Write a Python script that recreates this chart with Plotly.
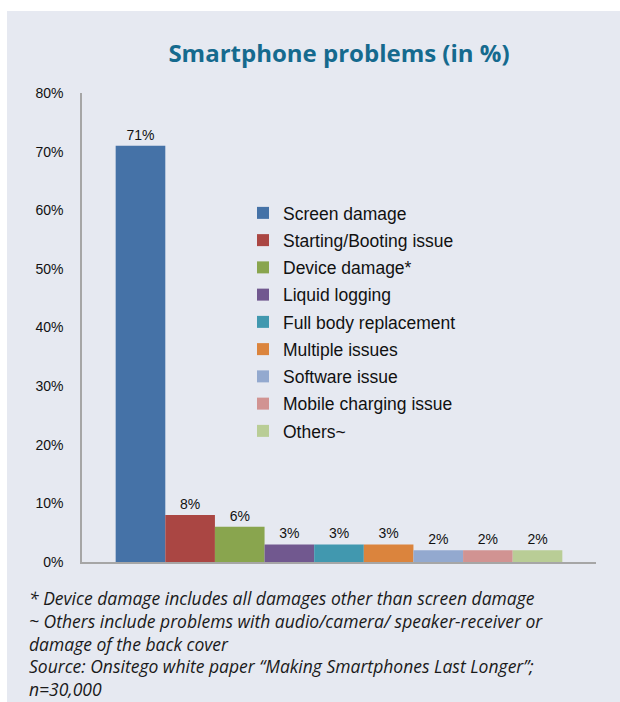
import plotly.graph_objects as go

categories = ["Screen damage", "Starting/Booting issue", "Device damage*", "Liquid logging",
              "Full body replacement", "Multiple issues", "Software issue",
              "Mobile charging issue", "Others~"]
values = [71, 8, 6, 3, 3, 3, 2, 2, 2]
colors = ["#4572A7", "#AA4643", "#89A54E", "#71588F", "#4198AF", "#DB843D",
          "#93A9CF", "#D19392", "#B9CD96"]
y_ticks = [0, 10, 20, 30, 40, 50, 60, 70, 80]
footnotes = [
    "* Device damage includes all damages other than screen damage",
    "~ Others include problems with audio/camera/ speaker-receiver or",
    "damage of the back cover",
    "Source: Onsitego white paper \u201cMaking Smartphones Last Longer\u201d;",
    "n=30,000",
]

W, H = 620, 702
L, R, T, B = 82, 596, 93, 562
pw, ph = R - L, B - T

def px2x(px):
    return (px - L) / pw

def py2y(py):
    return (B - py) / ph

fig = go.Figure()
for i, (name, v, c) in enumerate(zip(categories, values, colors)):
    fig.add_trace(go.Bar(
        x=[""], y=[v], name=name, marker=dict(color=c, line=dict(width=0)),
        text=[f"{v}%"], textposition="outside", cliponaxis=False,
        textfont=dict(family="Liberation Sans", size=14, color="#111111"),
        legendgroup=f"g{i}",
    ))

annotations = [dict(
    text="<br>".join(footnotes), x=px2x(27), y=py2y(643), xref="paper", yref="paper",
    xanchor="left", yanchor="middle", align="left", showarrow=False,
    font=dict(family="Open Sans", size=17.5, color="#1a1a1a", style="italic"),
)]

fig.update_layout(
    width=W, height=H,
    margin=dict(l=L, r=W - R, t=T, b=H - B, pad=0),
    paper_bgcolor="white",
    plot_bgcolor="rgba(0,0,0,0)",
    barmode="group",
    bargap=0.131,
    bargroupgap=0,
    title=dict(text="<b>Smartphone problems (in %)</b>", x=339 / W, xanchor="center",
               y=1 - 54 / H, yanchor="middle", xref="container",
               font=dict(family="Open Sans", size=24, color="#156A8E")),
    showlegend=True,
    legend=dict(x=px2x(243), y=py2y(195), xanchor="left", yanchor="top",
                bgcolor="rgba(0,0,0,0)", tracegroupgap=1.5,
                font=dict(family="Liberation Sans", size=17.5, color="#111111")),
    xaxis=dict(range=[-0.5, 0.5], showticklabels=False, showline=True,
               linecolor="#A6A6A6", linewidth=1.5, showgrid=False, zeroline=False,
               ticks="", fixedrange=True),
    yaxis=dict(range=[0, 80], tickvals=y_ticks, ticktext=[f"{t}%" for t in y_ticks],
               showline=True, linecolor="#A6A6A6", linewidth=1.5, showgrid=False,
               zeroline=False, ticks="", ticklabelstandoff=14,
               tickfont=dict(family="Liberation Sans", size=14, color="#111111")),
    shapes=[dict(type="rect", xref="paper", yref="paper", layer="below",
                 x0=px2x(7), x1=px2x(640), y0=py2y(720), y1=py2y(11),
                 fillcolor="#E6E9F1", line=dict(width=0))],
    annotations=annotations,
)

fig.write_html("out.html")
